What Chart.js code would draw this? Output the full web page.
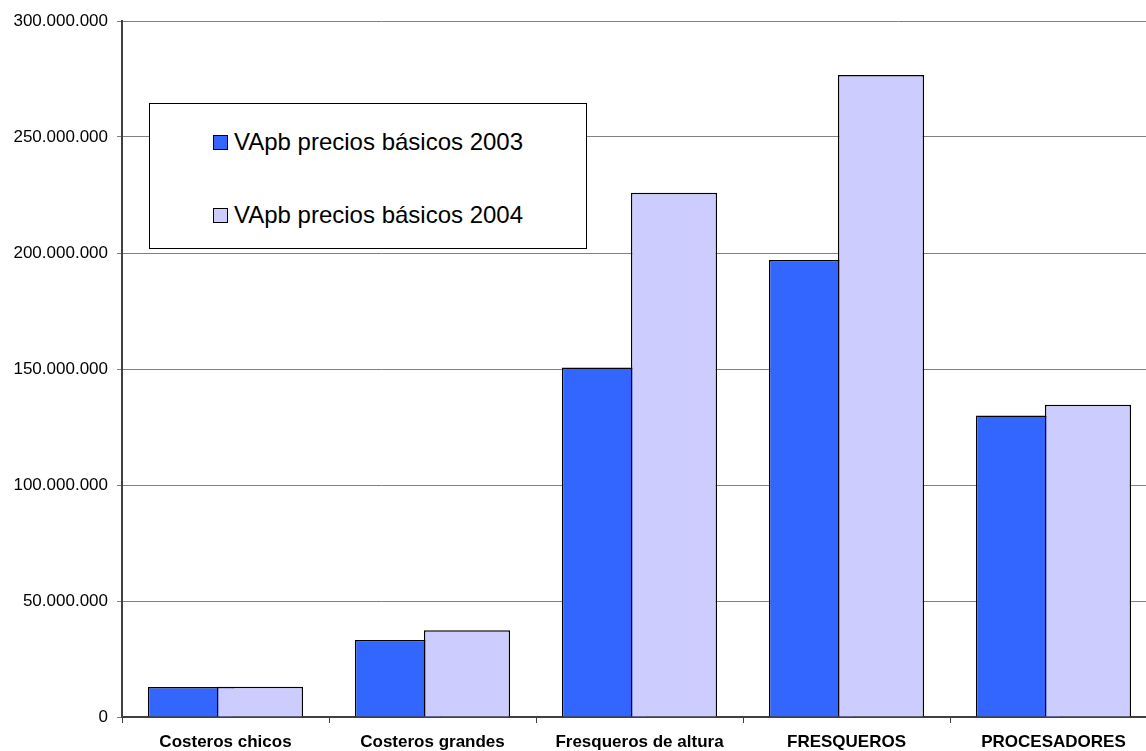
<!DOCTYPE html>
<html>
<head>
<meta charset="utf-8">
<script src="https://cdn.jsdelivr.net/npm/chart.js@4/dist/chart.umd.min.js"></script>
<style>
  html, body { margin: 0; padding: 0; background: #fff; overflow: hidden; }
  #wrap { position: relative; width: 1160px; height: 751px; }
  #legend {
    position: absolute; left: 149px; top: 103px; width: 436px; height: 144px;
    background: #fff; border: 1px solid #000;
    font-family: 'Liberation Sans', Arial, sans-serif; font-size: 24px; color: #000;
  }
  #legend .item { position: absolute; left: 63px; display: flex; align-items: center; height: 30px; }
  #legend .box { width: 13px; height: 13px; border: 1px solid #000; margin-right: 6px; }
</style>
</head>
<body>
<div id="wrap">
  <canvas id="chart" width="1160" height="751"></canvas>
  <div id="legend"></div>
</div>
<script>
/* ─── data ─── */
const categories = ['Costeros chicos', 'Costeros grandes', 'Fresqueros de altura', 'FRESQUEROS', 'PROCESADORES'];
const vab2003 = [12900000, 33200000, 150700000, 197000000, 130000000];
const vab2004 = [13000000, 37400000, 226000000, 276700000, 134600000];
const seriesLabels = ['VApb precios básicos 2003', 'VApb precios básicos 2004'];
const seriesColors = ['#3366FF', '#CCCCFF'];
const yMax = 300000000;
const yStep = 50000000;

const FONT = "'Liberation Sans', Arial, sans-serif";

function fmtThousands(v) {
  return String(Math.round(v)).replace(/\B(?=(\d{3})+(?!\d))/g, '.');
}

/* Excel draws the second series over the first (overlapping bars) */
const overlapOrder = {
  id: 'overlapOrder',
  beforeDatasetDraw(chart, args) {
    if (args.index === 1) return false;
  },
  afterDatasetsDraw(chart) {
    const meta = chart.getDatasetMeta(1);
    if (!meta.hidden) meta.controller.draw();
  }
};

const ctx = document.getElementById('chart');
new Chart(ctx, {
  type: 'bar',
  data: {
    labels: categories,
    datasets: [
      { label: seriesLabels[0], data: vab2003, backgroundColor: seriesColors[0], borderColor: '#000', borderWidth: 1.5 },
      { label: seriesLabels[1], data: vab2004, backgroundColor: seriesColors[1], borderColor: '#000', borderWidth: 1.5 }
    ]
  },
  options: {
    responsive: false, animation: false,
    categoryPercentage: 0.6667, barPercentage: 1.25,
    layout: { padding: { top: 21, right: 3, left: 0, bottom: 0 } },
    plugins: { legend: { display: false }, tooltip: { enabled: false } },
    scales: {
      x: {
        grid: { offset: true, drawOnChartArea: false, color: '#404040', tickLength: 6, lineWidth: 1 },
        border: { color: '#404040', width: 2 },
        ticks: { color: '#000', font: { family: FONT, size: 17, weight: 'bold' }, padding: 9, maxRotation: 0, autoSkip: false },
        afterFit(scale) { scale.height = 34; }
      },
      y: {
        min: 0, max: yMax,
        grid: { color: '#808080', tickLength: 5, lineWidth: 1 },
        border: { color: '#404040', width: 2 },
        ticks: { stepSize: yStep, color: '#000', font: { family: FONT, size: 17 }, padding: 9, callback: v => fmtThousands(v) },
        afterFit(scale) { scale.width = 122; }
      }
    }
  },
  plugins: [overlapOrder]
});

/* legend box */
const legend = document.getElementById('legend');
const itemTops = [23, 96];
seriesLabels.forEach((lbl, i) => {
  const it = document.createElement('div');
  it.className = 'item';
  it.style.top = itemTops[i] + 'px';
  it.innerHTML = '<span class="box" style="background:' + seriesColors[i] + '"></span><span>' + lbl + '</span>';
  legend.appendChild(it);
});
</script>
</body>
</html>
